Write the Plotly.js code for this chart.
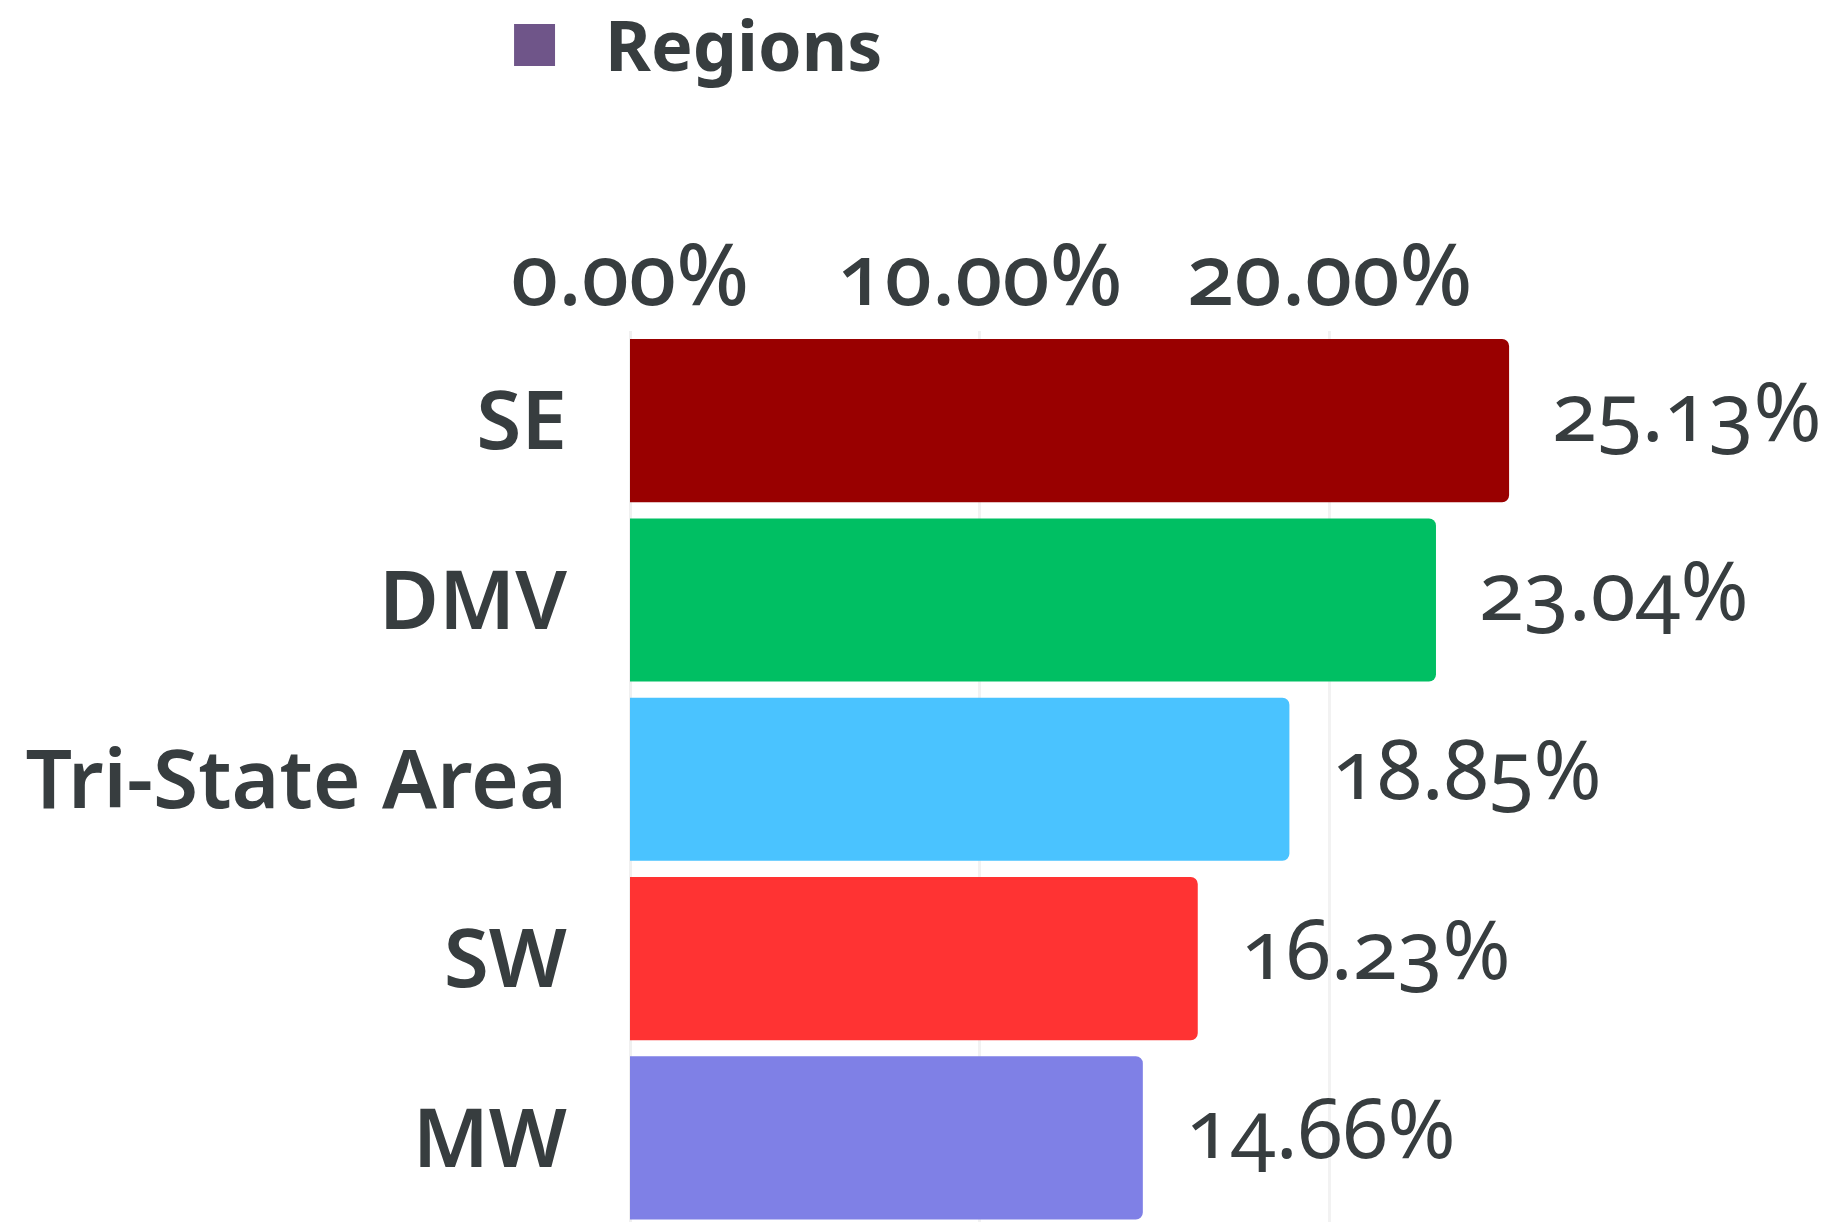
<!DOCTYPE html>
<html>
<head>
<meta charset="utf-8">
<script src="https://cdn.plot.ly/plotly-3.0.1.min.js"></script>
<style>
  html, body { margin: 0; padding: 0; background: #ffffff; }
  #chart { width: 1845px; height: 1222px; }
  .main-svg text { font-feature-settings: "onum" 1; font-variant-numeric: oldstyle-nums; }
</style>
</head>
<body>
<div id="chart"></div>
<script>
// ---- data ----
const seriesName = "Regions";
const categories = ["SE", "DMV", "Tri-State Area", "SW", "MW"];
const values = [25.13, 23.04, 18.85, 16.23, 14.66];
const barColors = ["#990000", "#00bf63", "#4ac3ff", "#ff3333", "#7f80e6"];
const legendColor = "#6f5589";
const tickValues = [0, 10, 20];
const tickLabels = ["0.00%", "10.00%", "20.00%"];

// ---- geometry ----
const W = 1845, H = 1222;
const mL = 630, mR = 252.5, mT = 331, mB = 0;
const plotW = W - mL - mR, plotH = H - mT - mB;
const px = (x) => (x - mL) / plotW;   // pixel x -> paper
const py = (y) => (H - mB - y) / plotH; // pixel y -> paper

const textColor = "#373d3f";
const fontFam = "Noto Sans, Open Sans, sans-serif";

const trace = {
  type: "bar",
  orientation: "h",
  name: seriesName,
  x: values,
  y: categories,
  marker: { color: barColors, cornerradius: 7, line: { width: 0 } },
  hoverinfo: "skip",
  showlegend: false
};

const annotations = values.map((v, i) => ({
  x: v, y: categories[i], xref: "x", yref: "y",
  text: v.toFixed(2) + "%",
  showarrow: false, xanchor: "left", yanchor: "middle",
  xshift: 37, yshift: 12,
  font: { family: fontFam, size: 82, color: textColor }
}));

annotations.push({
  x: px(603), y: py(44), xref: "paper", yref: "paper",
  text: seriesName, showarrow: false, xanchor: "left", yanchor: "middle",
  font: { family: fontFam, size: 70, color: textColor, weight: 700 }
});

const layout = {
  width: W, height: H,
  margin: { l: mL, r: mR, t: mT, b: mB, pad: 0 },
  paper_bgcolor: "#ffffff",
  plot_bgcolor: "#ffffff",
  showlegend: false,
  bargap: 0.09,
  font: { family: fontFam, color: textColor },
  xaxis: {
    side: "top",
    range: [0, 27.5],
    tickmode: "array",
    tickvals: tickValues,
    ticktext: tickLabels,
    showgrid: true, gridcolor: "#f2f2f2", gridwidth: 3,
    zeroline: true, zerolinecolor: "#f0f0f0", zerolinewidth: 3,
    showline: false, ticks: "",
    ticklabelstandoff: 8,
    tickfont: { family: fontFam, size: 85, color: textColor, weight: 500 },
    fixedrange: true
  },
  yaxis: {
    type: "category",
    categoryarray: categories,
    range: [4.469, -0.5],
    showgrid: false, zeroline: false, showline: false, ticks: "",
    ticklabelstandoff: 62,
    tickfont: { family: fontFam, size: 82, color: textColor, weight: 600 },
    fixedrange: true
  },
  shapes: [{
    type: "rect", xref: "paper", yref: "paper",
    x0: px(514), x1: px(555), y0: py(66), y1: py(24),
    fillcolor: legendColor, line: { width: 0 }
  }],
  annotations: annotations
};

Plotly.newPlot("chart", [trace], layout, { displayModeBar: false, staticPlot: true });
</script>
</body>
</html>
